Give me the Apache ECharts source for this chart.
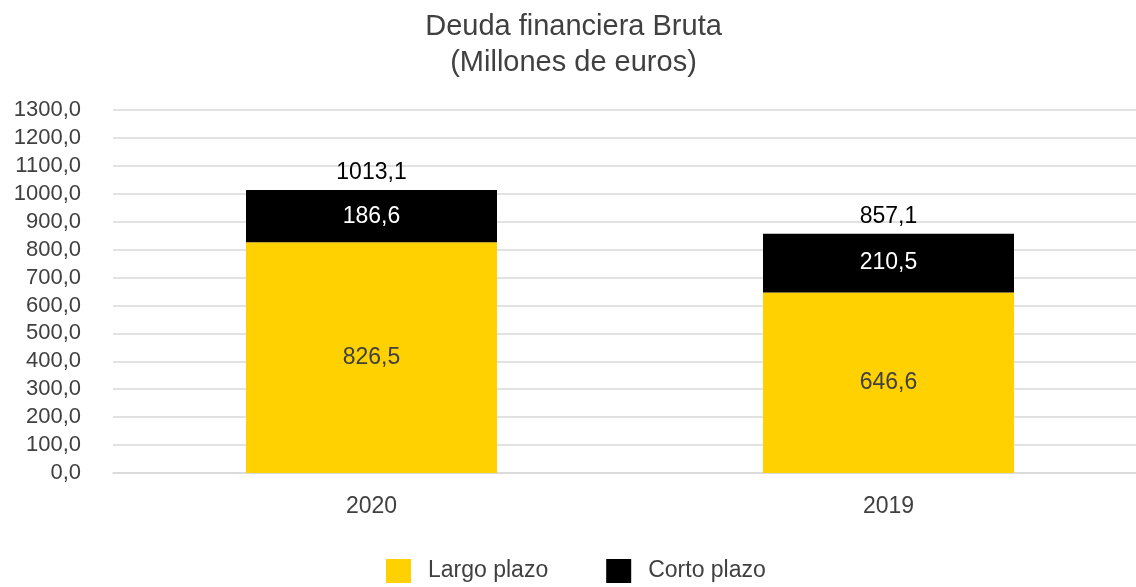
<!DOCTYPE html>
<html>
<head>
<meta charset="utf-8">
<script src="https://cdn.jsdelivr.net/npm/echarts@6/dist/echarts.min.js"></script>
<style>
    html, body { margin: 0; padding: 0; background: #fff; overflow: hidden; }
    /* plot runs past the right edge in the original, so the canvas is a bit wider than the window */
    #chart { width: 1147px; height: 587px; }
</style>
</head>
<body>
<div id="chart"></div>
<script>
// data
var years = ['2020', '2019']
var largoPlazo = [826.5, 646.6]
var cortoPlazo = [186.6, 210.5]
var totales = [1013.1, 857.1]
var nameList = ['Largo plazo', 'Corto plazo']
var color = ['#FFD100', '#000000']

function fmt(v){
    return v.toFixed(1).replace('.', ',')
}

var font = '"Liberation Sans", Arial, sans-serif'

var myChart = echarts.init(document.getElementById('chart'))
var option = {
    animation: false,
    title: {
        text: 'Deuda financiera Bruta\n(Millones de euros)',
        left: 'center',
        top: 4,
        textStyle: {
            fontFamily: font,
            fontWeight: 'normal',
            fontSize: 29,
            lineHeight: 36,
            color: '#404040'
        }
    },
    legend: {
        data: nameList,
        bottom: 4,
        left: 386,
        padding: 0,
        itemWidth: 25,
        itemHeight: 24,
        itemGap: 58,
        icon: 'rect',
        textStyle: {
            fontFamily: font,
            fontSize: 23,
            color: '#404040',
            padding: [0, 0, 0, 12]
        }
    },
    grid: {
        left: 113,
        right: 0,
        top: 110,
        bottom: 114
    },
    xAxis: {
        type: 'category',
        data: years,
        axisTick: { show: false },
        axisLine: {
            lineStyle: { color: '#d9d9d9', width: 1.5 }
        },
        axisLabel: {
            fontFamily: font,
            fontSize: 23,
            color: '#404040',
            margin: 22
        }
    },
    yAxis: {
        type: 'value',
        min: 0,
        max: 1300,
        interval: 100,
        axisLine: { show: false },
        axisTick: { show: false },
        splitLine: {
            lineStyle: { color: '#d9d9d9', width: 1.5 }
        },
        axisLabel: {
            fontFamily: font,
            fontSize: 22,
            color: '#404040',
            margin: 32,
            formatter: function(v){ return fmt(v) }
        }
    },
    series: [
        {
            name: nameList[0],
            type: 'bar',
            stack: 'deuda',
            barWidth: 251,
            data: largoPlazo,
            itemStyle: { color: color[0] },
            label: {
                show: true,
                position: 'inside',
                fontFamily: font,
                fontSize: 23,
                color: '#404040',
                formatter: function(p){ return fmt(p.value) }
            }
        },
        {
            name: nameList[1],
            type: 'bar',
            stack: 'deuda',
            barWidth: 251,
            data: cortoPlazo,
            itemStyle: { color: color[1] },
            label: {
                show: true,
                position: 'inside',
                fontFamily: font,
                fontSize: 23,
                color: '#ffffff',
                formatter: function(p){ return fmt(p.value) }
            }
        },
        {
            // invisible bar just to place the totals on top
            name: 'Total',
            type: 'bar',
            stack: 'deuda',
            barWidth: 251,
            data: [0, 0],
            itemStyle: { color: 'transparent' },
            label: {
                show: true,
                position: 'top',
                distance: 6,
                fontFamily: font,
                fontSize: 23,
                color: '#000000',
                formatter: function(p){ return fmt(totales[p.dataIndex]) }
            }
        }
    ]
}
myChart.setOption(option)
</script>
</body>
</html>
